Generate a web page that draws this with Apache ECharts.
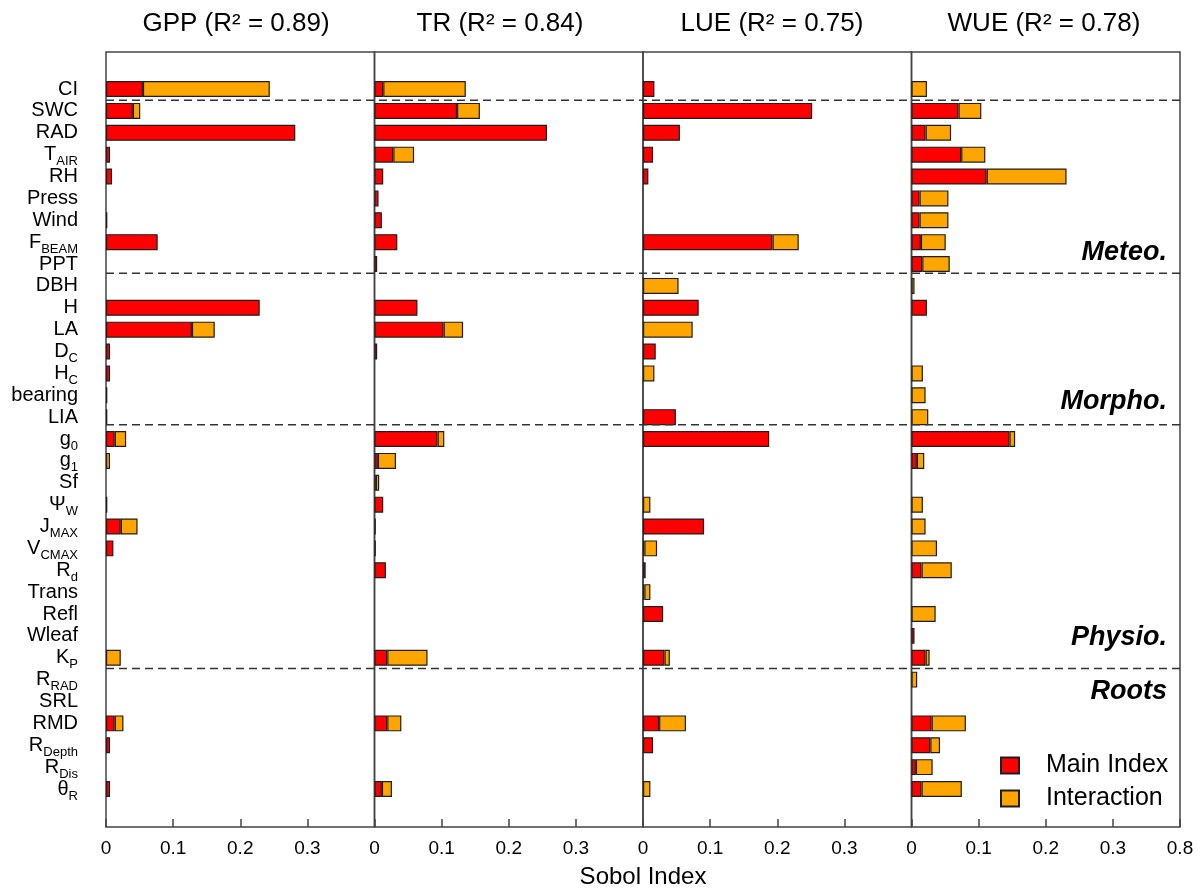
<!DOCTYPE html>
<html>
<head>
<meta charset="utf-8">
<script src="https://cdn.jsdelivr.net/npm/echarts@6/dist/echarts.min.js"></script>
<style>
  html, body { margin: 0; padding: 0; background: #fff; }
  #chart { width: 1203px; height: 894px; }
</style>
</head>
<body>
<div id="chart"></div>
<script>
// Model parameters, top to bottom ("main|sub" marks a subscript)
const params = ['CI', 'SWC', 'RAD', 'T|AIR', 'RH', 'Press', 'Wind', 'F|BEAM', 'PPT',
  'DBH', 'H', 'LA', 'D|C', 'H|C', 'bearing', 'LIA',
  'g|0', 'g|1', 'Sf', 'Ψ|W', 'J|MAX', 'V|CMAX', 'R|d', 'Trans', 'Refl', 'Wleaf', 'K|P',
  'R|RAD', 'SRL', 'RMD', 'R|Depth', 'R|Dis', 'θ|R'];

const outputs = ['GPP', 'TR', 'LUE', 'WUE'];
const r2 = ['0.89', '0.84', '0.75', '0.78'];

// Sobol main (first-order) indices
const gppMain = [0.055, 0.040, 0.282, 0.006, 0.009, 0, 0.002, 0.077, 0,
  0, 0.229, 0.128, 0.006, 0.006, 0.002, 0.002,
  0.013, 0, 0, 0.002, 0.022, 0.011, 0, 0, 0, 0, 0,
  0, 0, 0.013, 0.006, 0, 0.006];
const trMain = [0.013, 0.123, 0.257, 0.028, 0.013, 0.006, 0.011, 0.034, 0.004,
  0, 0.064, 0.103, 0.004, 0, 0, 0,
  0.094, 0.005, 0.002, 0.013, 0.002, 0.002, 0.017, 0, 0, 0, 0.019,
  0, 0, 0.019, 0, 0, 0.011];
const lueMain = [0.017, 0.252, 0.055, 0.015, 0.008, 0, 0, 0.193, 0,
  0, 0.083, 0, 0.019, 0, 0, 0.049,
  0.188, 0, 0, 0, 0.091, 0.002, 0.004, 0.002, 0.030, 0, 0.032,
  0, 0, 0.024, 0.015, 0, 0];
const wueMain = [0, 0.070, 0.021, 0.074, 0.112, 0.012, 0.012, 0.014, 0.016,
  0, 0.023, 0, 0, 0, 0, 0,
  0.146, 0.008, 0, 0, 0, 0, 0.015, 0, 0, 0.0045, 0.021,
  0, 0, 0.030, 0.028, 0.0065, 0.015];

// Interaction part (total minus main index)
const gppInter = [0.189, 0.011, 0, 0, 0, 0, 0, 0, 0,
  0, 0, 0.034, 0, 0, 0, 0,
  0.017, 0.006, 0, 0, 0.025, 0, 0, 0, 0, 0, 0.022,
  0, 0, 0.013, 0, 0, 0];
const trInter = [0.123, 0.034, 0, 0.031, 0, 0, 0, 0, 0,
  0, 0, 0.029, 0, 0, 0, 0,
  0.010, 0.027, 0.005, 0, 0, 0, 0, 0, 0, 0, 0.060,
  0, 0, 0.021, 0, 0, 0.015];
const lueInter = [0, 0, 0, 0, 0, 0, 0, 0.039, 0,
  0.053, 0, 0.074, 0, 0.017, 0, 0,
  0, 0, 0, 0.011, 0, 0.019, 0, 0.009, 0, 0, 0.008,
  0, 0, 0.040, 0, 0, 0.011];
const wueInter = [0.023, 0.034, 0.038, 0.036, 0.119, 0.043, 0.043, 0.037, 0.041,
  0.0045, 0, 0, 0, 0.017, 0.021, 0.025,
  0.0084, 0.011, 0, 0.017, 0.021, 0.038, 0.045, 0, 0.036, 0, 0.006,
  0.0085, 0, 0.051, 0.0145, 0.025, 0.060];

const mainIdx = [gppMain, trMain, lueMain, wueMain];
const interIdx = [gppInter, trInter, lueInter, wueInter];

// Parameter groups and the dashed separators between them (row units)
const groupNames = ['Meteo.', 'Morpho.', 'Physio.', 'Roots'];
const groupBreaks = [0.53, 8.47, 15.44, 26.64];

const xMax = 0.4;
const lastTickLabel = '0.8';
const seriesNames = ['Main Index', 'Interaction'];

// ---- layout ----
const FONT = '"Liberation Sans", Arial, sans-serif';
const PANEL_L = 106, PANEL_W = 268.5, TOP = 52, HEIGHT = 775;
const ROW0 = 89, ROW = 21.875;
const N = params.length;
const yMin = (TOP - ROW0) / ROW;
const yMax = (TOP + HEIGHT - ROW0) / ROW;

const grids = [], xAxes = [], yAxes = [], series = [];

outputs.forEach((o, k) => {
  const left = PANEL_L + k * PANEL_W;
  // bar grid: one band per parameter row
  grids.push({ left, width: PANEL_W, top: ROW0 - ROW / 2, height: ROW * N });
  xAxes.push({ type: 'value', gridIndex: k, min: 0, max: xMax, show: false });
  yAxes.push({
    type: 'category', gridIndex: k, data: params, inverse: true,
    axisLine: { show: false }, axisTick: { show: false }, splitLine: { show: false },
    axisLabel: {
      show: k === 0, interval: 0, margin: 28, fontFamily: FONT, fontSize: 20, color: '#000',
      formatter: v => {
        const p = v.split('|');
        return p.length > 1 ? '{m|' + p[0] + '}{s|' + p[1] + '}' : '{m|' + v + '}';
      },
      rich: {
        m: { fontFamily: FONT, fontSize: 20, color: '#000', lineHeight: 20 },
        s: { fontFamily: FONT, fontSize: 13, color: '#000', lineHeight: 13, padding: [14, 0, 0, 0] }
      }
    }
  });
  [mainIdx[k], interIdx[k]].forEach((arr, j) => {
    series.push({
      type: 'bar', name: seriesNames[j], stack: 'p' + k,
      xAxisIndex: k, yAxisIndex: k, barWidth: 16,
      data: arr.map(v => (v > 0 ? v : null)),
      itemStyle: { color: j === 0 ? '#FF0000' : '#FFA500', borderColor: '#1e1e1e', borderWidth: 1.2 },
      animation: false, silent: true
    });
  });
});

// framed panels with the Sobol index scale
outputs.forEach((o, k) => {
  const gi = 4 + k;
  grids.push({
    left: PANEL_L + k * PANEL_W, width: PANEL_W, top: TOP, height: HEIGHT,
    show: true, borderColor: '#444', borderWidth: 1.5, backgroundColor: 'transparent'
  });
  xAxes.push({
    type: 'value', gridIndex: gi, min: 0, max: xMax, interval: 0.1,
    axisLine: { show: false }, splitLine: { show: false },
    axisTick: { show: true, inside: true, length: 8, lineStyle: { color: '#444', width: 1.5 } },
    axisLabel: {
      margin: 12, fontFamily: FONT, fontSize: 19, color: '#000',
      showMinLabel: true, showMaxLabel: k === outputs.length - 1,
      formatter: v => (Math.abs(v - xMax) < 1e-9 ? lastTickLabel : String(+v.toFixed(1)))
    }
  });
  yAxes.push({ type: 'value', gridIndex: gi, show: false });
});

// full-width grid for group separators and the shared axis name
grids.push({ left: PANEL_L, width: PANEL_W * 4, top: TOP, height: HEIGHT });
xAxes.push({
  type: 'value', gridIndex: 8, min: 0, max: 1,
  axisLine: { show: false }, axisTick: { show: false }, axisLabel: { show: false }, splitLine: { show: false },
  name: 'Sobol Index', nameLocation: 'middle', nameGap: 42,
  nameTextStyle: { fontFamily: FONT, fontSize: 24, color: '#000' }
});
yAxes.push({ type: 'value', gridIndex: 8, min: yMin, max: yMax, inverse: true, show: false });
groupBreaks.forEach(b => {
  series.push({
    type: 'line', xAxisIndex: 8, yAxisIndex: 8, data: [[0, b], [1, b]],
    symbol: 'none', silent: true, animation: false, z: 5,
    lineStyle: { color: '#333', width: 1.5, type: [8, 5] }
  });
});

// panel titles and group labels
const graphics = [];
const titleX = [236, 500, 772, 1044];
outputs.forEach((o, k) => {
  graphics.push({
    type: 'text', x: titleX[k], y: 24,
    style: { text: o + ' (R² = ' + r2[k] + ')', fontFamily: FONT, fontSize: 26, fill: '#000',
      align: 'center', verticalAlign: 'middle', textAlign: 'center', textVerticalAlign: 'middle' }
  });
});
const groupY = [253, 402, 638, 692];
groupNames.forEach((g, i) => {
  graphics.push({
    type: 'text', x: 1167, y: groupY[i], z: 10,
    style: { text: g, fontFamily: FONT, fontSize: 27, fontWeight: 'bold', fontStyle: 'italic', fill: '#000',
      align: 'right', verticalAlign: 'middle', textAlign: 'right', textVerticalAlign: 'middle' }
  });
});

const chart = echarts.init(document.getElementById('chart'), null, { renderer: 'canvas' });
chart.setOption({
  backgroundColor: '#fff',
  animation: false,
  grid: grids,
  xAxis: xAxes,
  yAxis: yAxes,
  series,
  legend: {
    data: seriesNames, orient: 'vertical', left: 995, top: 748,
    icon: 'rect', itemWidth: 18, itemHeight: 16, itemGap: 8,
    selectedMode: false,
    textStyle: { fontFamily: FONT, fontSize: 25, color: '#000', lineHeight: 25, padding: [0, 0, 0, 22] }
  },
  graphic: graphics
});
</script>
</body>
</html>
